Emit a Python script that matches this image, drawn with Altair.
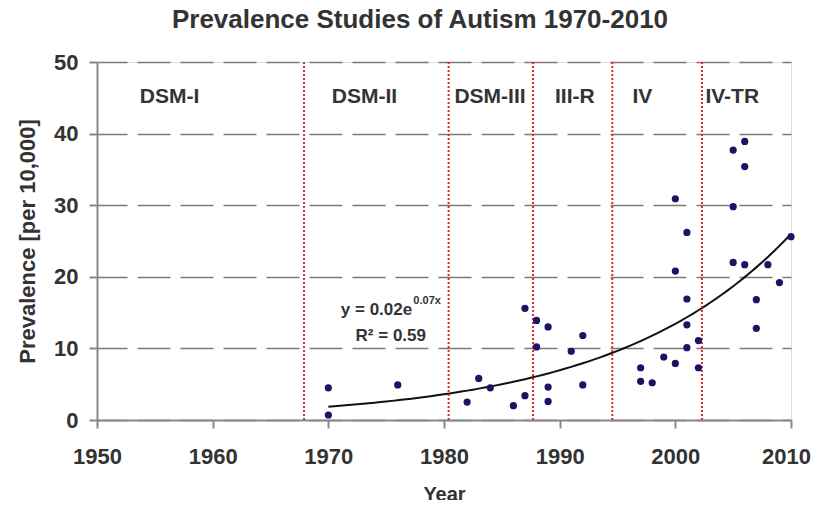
import altair as alt
import pandas as pd
import numpy as np

# ---- data ----
years = [1970, 1970, 1976, 1982, 1983, 1984, 1986, 1987, 1987, 1988, 1988,
         1989, 1989, 1989, 1991, 1992, 1992, 1997, 1997, 1998, 1999,
         2000, 2000, 2000, 2001, 2001, 2001, 2001, 2002, 2002,
         2005, 2005, 2005, 2006, 2006, 2006, 2007, 2007, 2008, 2009, 2010]
prevalence = [4.5, 0.7, 4.9, 2.5, 5.8, 4.5, 2.0, 15.6, 3.4, 13.9, 10.2,
              13.0, 4.6, 2.6, 9.6, 11.8, 4.9, 7.3, 5.4, 5.2, 8.8,
              30.9, 20.8, 7.9, 26.2, 16.9, 13.3, 10.1, 11.1, 7.3,
              37.7, 29.8, 22.0, 38.9, 35.4, 21.7, 16.8, 12.8, 21.7, 19.2, 25.6]

dsm_names = ["DSM-I", "DSM-II", "DSM-III", "III-R", "IV", "IV-TR"]
dsm_label_x = [1953.7, 1970.3, 1980.9, 1989.6, 1996.3, 2002.6]
dsm_label_y = [44.3] * 6
dsm_bounds = [1967.9, 1980.4, 1987.7, 1994.55, 2002.3]

x_ticks = [1950, 1960, 1970, 1980, 1990, 2000, 2010]
y_ticks = [0, 10, 20, 30, 40, 50]

eq_main = "y = 0.02e"
eq_exp = "0.07x"
eq_r2 = "R\u00b2 = 0.59"

# ---- exponential trendline (log-linear least squares, as in the source) ----
b, loga = np.polyfit(np.array(years, float), np.log(prevalence), 1)
curve_years = np.linspace(1970, 2010, 81)
curve_vals = np.exp(loga + b * curve_years)

pts = pd.DataFrame({"year": years, "prev": prevalence})
trend = pd.DataFrame({"year": curve_years, "prev": curve_vals})
bounds = pd.DataFrame({"year": dsm_bounds})
labels = pd.DataFrame({"year": dsm_label_x, "prev": dsm_label_y, "label": dsm_names})
eq1 = pd.DataFrame({"year": [1977.25], "prev": [14.7], "t": [eq_main]})
eq2 = pd.DataFrame({"year": [1977.35], "prev": [14.7], "t": [eq_exp]})
eq3 = pd.DataFrame({"year": [1975.4], "prev": [11.0], "t": [eq_r2]})

FONT = "Liberation Sans, Arial, sans-serif"
TXT = "#333333"
GRAY = "#888888"

xs = alt.Scale(domain=[1950, 2010], nice=False, zero=False)
ys = alt.Scale(domain=[0, 50], nice=False)

xenc = alt.X("year:Q", scale=xs, axis=alt.Axis(
    values=x_ticks, format="d", grid=False, title="Year",
    labelFontSize=22, labelFontWeight="bold", labelColor=TXT, labelFont=FONT,
    labelPadding=18, labelFlush=False, labelOverlap=False,
    labelOffset={"condition": {"test": "datum.value == 2010", "value": -5},
                 "value": 0},
    tickSize=8, tickColor=GRAY, tickWidth=2,
    domainColor=GRAY, domainWidth=2,
    titleFontSize=20, titleFontWeight="bold", titleColor=TXT, titleFont=FONT,
    titleX=347, titleY=80, titleBaseline="alphabetic", titleAlign="center"))
yenc = alt.Y("prev:Q", scale=ys, axis=alt.Axis(
    values=y_ticks, grid=True, gridDash=[33, 10], gridDashOffset=3,
    gridColor="#7a7a7a", gridWidth=1.5, title="Prevalence [per 10,000]",
    labelFontSize=22, labelFontWeight="bold", labelColor=TXT, labelFont=FONT,
    labelPadding=11, labelFlush=False, labelOverlap=False,
    tickSize=8, tickColor=GRAY, tickWidth=2,
    domainColor=GRAY, domainWidth=2,
    titleFontSize=22, titleFontWeight="bold", titleColor=TXT, titleFont=FONT,
    titleX=-70, titleY=179, titleBaseline="middle", titleAlign="center",
    titleAngle=270))

rules = alt.Chart(bounds).mark_rule(
    color="#e3262b", strokeDash=[2, 2], strokeWidth=2
).encode(x=alt.X("year:Q", scale=xs))

line = alt.Chart(trend).mark_line(color="#111111", strokeWidth=2).encode(
    x=xenc, y=yenc)

points = alt.Chart(pts).mark_circle(size=52, color="#1b1464", opacity=1).encode(
    x=alt.X("year:Q", scale=xs), y=alt.Y("prev:Q", scale=ys))

dsm_text = alt.Chart(labels).mark_text(
    align="left", baseline="alphabetic", fontSize=21, fontWeight="bold",
    color=TXT, font=FONT
).encode(x=alt.X("year:Q", scale=xs), y=alt.Y("prev:Q", scale=ys), text="label:N")

t1 = alt.Chart(eq1).mark_text(
    align="right", baseline="alphabetic", fontSize=17, fontWeight="bold",
    color=TXT, font=FONT
).encode(x=alt.X("year:Q", scale=xs), y=alt.Y("prev:Q", scale=ys), text="t:N")
t2 = alt.Chart(eq2).mark_text(
    align="left", baseline="alphabetic", fontSize=11, fontWeight="bold",
    color=TXT, font=FONT, dy=-11
).encode(x=alt.X("year:Q", scale=xs), y=alt.Y("prev:Q", scale=ys), text="t:N")
t3 = alt.Chart(eq3).mark_text(
    align="center", baseline="alphabetic", fontSize=17, fontWeight="bold",
    color=TXT, font=FONT
).encode(x=alt.X("year:Q", scale=xs), y=alt.Y("prev:Q", scale=ys), text="t:N")

chart = alt.layer(line, rules, points, dsm_text, t1, t2, t3).properties(
    width=694, height=358,
    title=alt.TitleParams(
        "Prevalence Studies of Autism 1970-2010", fontSize=26,
        fontWeight="bold", color=TXT, font=FONT, anchor="middle",
        frame="group", baseline="alphabetic", offset=-3, dx=-24),
    autosize=alt.AutoSizeParams(type="none"),
    padding={"left": 89, "top": 54, "right": 22, "bottom": 80},
).configure_view(stroke=GRAY, strokeWidth=2).configure(background="white")

chart.save("out.html", embed_options={"renderer": "svg", "actions": False})
